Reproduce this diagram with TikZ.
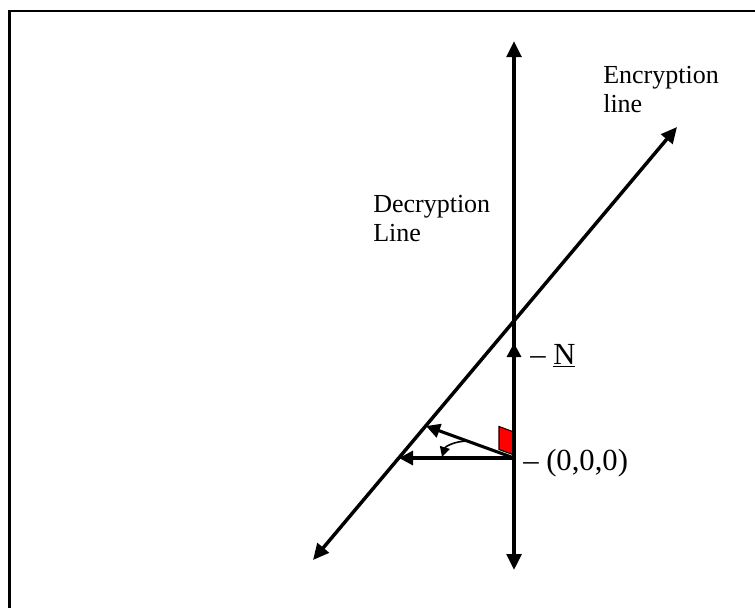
\documentclass[tikz,border=0pt]{standalone}
\usepackage{fontspec}
\setmainfont{Liberation Serif}
\usetikzlibrary{arrows.meta}
\begin{document}
\begin{tikzpicture}[x=0.75pt,y=-0.75pt,
  axisline/.style={line width=2.6pt,{Triangle[length=12pt,width=11pt]}-{Triangle[length=12pt,width=11pt]}},
  vecarrow/.style={line width=2.3pt,-{Triangle[length=10.5pt,width=10.5pt]}},
  anglearrow/.style={line width=1.2pt,-{Triangle[length=7.5pt,width=7.5pt]}},
  lbl/.style={inner sep=0pt,font=\fontsize{19.5}{21.5}\selectfont,align=left},
  biglbl/.style={inner sep=0pt,font=\fontsize{23}{26}\selectfont},
  frameline/.style={line width=1.6pt}]
\useasboundingbox (0,0) rectangle (755,607);
% frame
\coordinate (fbl) at (9.5,620);
\coordinate (ftl) at (9.5,11);
\coordinate (ftr) at (770,11);
\draw[frameline] (fbl) -- (ftl) -- (ftr);
% key points
\coordinate (O) at (514,458);
\coordinate (vtop) at (514,41);
\coordinate (vbot) at (514,570);
\coordinate (e1) at (313,560);
\coordinate (e2) at (677,127);
\coordinate (H) at (399,458);
\coordinate (I) at (426,426);
\coordinate (Ntip) at (514,343);
\coordinate (cs) at (468,441);
\coordinate (ce) at (442,457);
% red right-angle marker
\coordinate (r1) at (514,455);
\coordinate (r2) at (514,432);
\coordinate (r3) at (499,426.5);
\coordinate (r4) at (499,449.5);
\draw[fill=red,line width=0.8pt] (r1) -- (r2) -- (r3) -- (r4) -- cycle;
% lines
\draw[axisline] (vbot) -- (vtop);
\draw[axisline] (e1) -- (e2);
\draw[vecarrow] (O) -- (Ntip);
\draw[vecarrow] (O) -- (H);
\draw[vecarrow] (O) -- (I);
\draw[anglearrow] (cs) .. controls (454,441) and (445,447) .. (ce);
% labels
\node[lbl,anchor=base west] (enc) at (603,112) {Encryption\\line};
\node[lbl,anchor=base west] (dec) at (373,241) {Decryption\\Line};
\node[biglbl,anchor=base west] (nl) at (530,364) {– \underline{N}};
\node[biglbl,anchor=base west] (ol) at (523,470) {– (0,0,0)};
\end{tikzpicture}
\end{document}
